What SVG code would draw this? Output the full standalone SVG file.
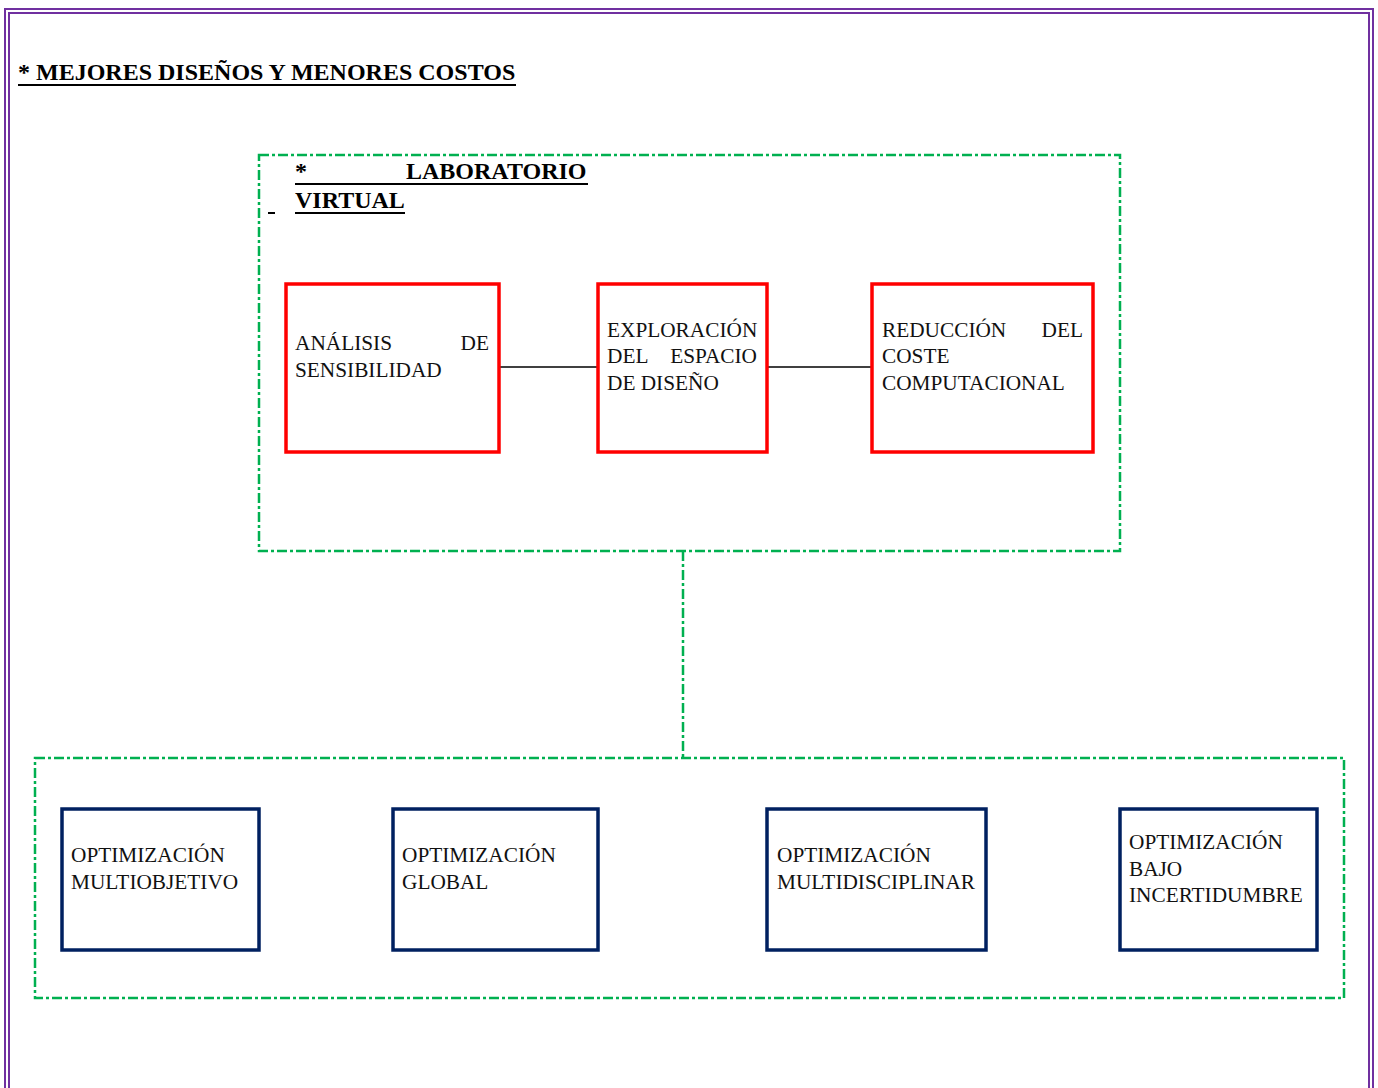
<svg xmlns="http://www.w3.org/2000/svg" width="1378" height="1088" viewBox="0 0 1378 1088">
<style>
.frame{fill:none;stroke:#7030a0;stroke-width:2}
.grp{fill:none;stroke:#00b050;stroke-width:2.5;stroke-dasharray:10 3 3 3}
.red{fill:#fff;stroke:#ff0000;stroke-width:3.5}
.blue{fill:#fff;stroke:#002060;stroke-width:3.5}
.t{font-family:"Liberation Serif","Times New Roman",serif;font-size:21.3px;fill:#111}
.h{font-family:"Liberation Serif","Times New Roman",serif;font-size:24px;font-weight:bold;fill:#000}
.ul{stroke:#000;stroke-width:2}
.conn{stroke:#000;stroke-width:1.5;fill:none}
</style>
<rect width="1378" height="1088" fill="#fff"/>
<rect class="frame" x="5" y="9" width="1368" height="1100"/>
<rect class="frame" x="9" y="13" width="1360" height="1100"/>
<g id="title">
<text class="h" x="18" y="80">* MEJORES DISEÑOS Y MENORES COSTOS</text>
<line class="ul" x1="18" y1="85" x2="516" y2="85"/>
</g>
<g id="lab">
<rect class="grp" x="259" y="155" width="861" height="396"/>
<text class="h" x="295" y="179">*</text>
<text class="h" x="406" y="179">LABORATORIO</text>
<line class="ul" x1="295" y1="184" x2="588" y2="184"/>
<text class="h" x="295" y="208">VIRTUAL</text>
<line class="ul" x1="295" y1="213" x2="405" y2="213"/>
<line class="ul" x1="268" y1="213" x2="275" y2="213"/>
</g>
<g id="connectors">
<line class="conn" x1="499" y1="367" x2="598" y2="367"/>
<line class="conn" x1="767" y1="367" x2="872" y2="367"/>
<line class="grp" x1="683" y1="551" x2="683" y2="758"/>
</g>
<g id="n1">
<rect class="red" x="286" y="284" width="213" height="168"/>
<text class="t" x="295" y="350">ANÁLISIS</text>
<text class="t" x="489" y="350" text-anchor="end">DE</text>
<text class="t" x="295" y="377">SENSIBILIDAD</text>
</g>
<g id="n2">
<rect class="red" x="598" y="284" width="169" height="168"/>
<text class="t" x="607" y="337">EXPLORACIÓN</text>
<text class="t" x="607" y="363">DEL</text>
<text class="t" x="757" y="363" text-anchor="end">ESPACIO</text>
<text class="t" x="607" y="390">DE DISEÑO</text>
</g>
<g id="n3">
<rect class="red" x="872" y="284" width="221" height="168"/>
<text class="t" x="882" y="337">REDUCCIÓN</text>
<text class="t" x="1083" y="337" text-anchor="end">DEL</text>
<text class="t" x="882" y="363">COSTE</text>
<text class="t" x="882" y="390">COMPUTACIONAL</text>
</g>
<g id="opt">
<rect class="grp" x="35" y="758" width="1309" height="240"/>
</g>
<g id="b1">
<rect class="blue" x="62" y="809" width="197" height="141"/>
<text class="t" x="71" y="862">OPTIMIZACIÓN</text>
<text class="t" x="71" y="889">MULTIOBJETIVO</text>
</g>
<g id="b2">
<rect class="blue" x="393" y="809" width="205" height="141"/>
<text class="t" x="402" y="862">OPTIMIZACIÓN</text>
<text class="t" x="402" y="889">GLOBAL</text>
</g>
<g id="b3">
<rect class="blue" x="767" y="809" width="219" height="141"/>
<text class="t" x="777" y="862">OPTIMIZACIÓN</text>
<text class="t" x="777" y="889">MULTIDISCIPLINAR</text>
</g>
<g id="b4">
<rect class="blue" x="1120" y="809" width="197" height="141"/>
<text class="t" x="1129" y="849">OPTIMIZACIÓN</text>
<text class="t" x="1129" y="876">BAJO</text>
<text class="t" x="1129" y="902">INCERTIDUMBRE</text>
</g>
</svg>
